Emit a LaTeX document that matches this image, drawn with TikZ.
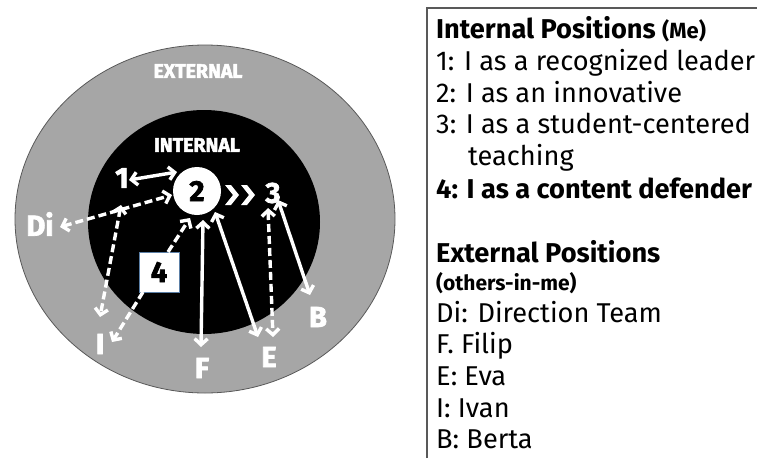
\documentclass[tikz,border=0pt]{standalone}
\usepackage{fontspec}
\setmainfont{Fira Sans}
\newfontfamily\lblfont[FakeBold=2.5]{Fira Sans}
\usetikzlibrary{arrows.meta}
\definecolor{ringgray}{HTML}{A6A6A6}
\definecolor{edgegray}{HTML}{595959}
\definecolor{boxblue}{HTML}{5B7FA6}
\definecolor{softwhite}{HTML}{FFFFFF}
\tikzset{
  solidarr/.style={draw=white, line width=3.4pt,
    {Straight Barb[length=6pt,width=13pt]}-{Straight Barb[length=6pt,width=13pt]}},
  dasharr/.style={solidarr, dash pattern=on 8pt off 4pt},
  dashone/.style={draw=white, line width=3.4pt, dash pattern=on 8pt off 4pt,
    -{Straight Barb[length=6pt,width=13pt]}},
  lbl/.style={text=softwhite, font=\fontsize{29}{32}\selectfont\lblfont\bfseries, inner sep=0pt},
  zone/.style={text=softwhite, font=\fontsize{19.5}{22}\selectfont\lblfont\bfseries, inner sep=0pt},
  legend/.style={anchor=base west, inner sep=0pt, font=\fontsize{27.2}{30}\selectfont},
  chev/.style={fill=white, draw=none},
}
\begin{document}
\begin{tikzpicture}[x=1pt,y=-1pt]
\useasboundingbox (0,0) rectangle (757,458);
% rings
\draw[fill=ringgray, draw=edgegray, line width=0.8pt] (205,219) ellipse [x radius=190, y radius=174];
\fill[black] (204,222) ellipse [x radius=116, y radius=112];
\node[zone] (ext) at (198,71) {EXTERNAL};
\node[zone] (int) at (197,145) {INTERNAL};
% internal positions
\node[lbl] (n1) at (122,178) {1};
\node[circle, fill=white, minimum size=48pt, inner sep=0pt,
      font=\fontsize{29}{32}\selectfont\lblfont\bfseries] (n2) at (197,191) {2};
\node[lbl] (n3) at (273,193) {3};
\node[draw=boxblue, line width=0.8pt, fill=white, minimum width=40pt, minimum height=40pt,
      inner sep=0pt, font=\fontsize{29}{32}\selectfont\lblfont\bfseries] (n4) at (159,272) {4};
% chevrons
\fill[chev] (225,185) -- (231,185) -- (239,195) -- (231,205) -- (225,205) -- (233,195) -- cycle;
\fill[chev] (241,185) -- (247,185) -- (255,195) -- (247,205) -- (241,205) -- (249,195) -- cycle;
% external positions
\node[lbl] (di) at (40,224) {Di};
\node[lbl] (ii) at (100,344) {I};
\node[lbl] (ff) at (202,368) {F};
\node[lbl] (ee) at (269,357) {E};
\node[lbl] (bb) at (318,317) {B};
% arrow ends
\coordinate (a1s) at (129,180);
\coordinate (a1e) at (177,172);
\coordinate (dis) at (60,227);
\coordinate (die) at (172,195);
\coordinate (ias) at (121,205);
\coordinate (iae) at (100,317);
\coordinate (b4t) at (168,252);
\coordinate (b4te) at (190,218);
\coordinate (b4b) at (143,292);
\coordinate (b4be) at (112,342);
\coordinate (fs) at (203,220);
\coordinate (fe) at (201,347);
\coordinate (es) at (215,212);
\coordinate (ee2) at (258,337);
\coordinate (e3s) at (268,208);
\coordinate (e3e) at (273,337);
\coordinate (bs) at (278,200);
\coordinate (be) at (310,295);
% arrows
\draw[solidarr] (a1s) -- (a1e);
\draw[dasharr] (dis) -- (die);
\draw[dasharr] (ias) -- (iae);
\draw[dashone] (b4t) -- (b4te);
\draw[dashone] (b4b) -- (b4be);
\draw[solidarr] (fs) -- (fe);
\draw[solidarr] (es) -- (ee2);
\draw[dasharr] (e3s) -- (e3e);
\draw[solidarr] (bs) -- (be);
% legend box
\coordinate (bxtl) at (427,8);
\coordinate (bxtr) at (757,8);
\coordinate (bxbl) at (427,458);
\draw[edgegray, line width=1.2pt] (bxbl) -- (bxtl) -- (bxtr);
\node[legend] (l0) at (436,38) {\bfseries Internal Positions {\fontsize{22}{24}\selectfont(Me)}};
\node[legend] (l1) at (436,70) {1: I as a recognized leader};
\node[legend] (l2) at (436,102) {2: I as an innovative};
\node[legend] (l3) at (436,133) {3: I as a student-centered};
\node[legend] (l3b) at (468,165) {teaching};
\node[legend] (l4) at (436,198) {\bfseries 4: I as a content defender};
\node[legend] (l5) at (436,262) {\bfseries External Positions};
\node[legend, font=\fontsize{21}{24}\selectfont\bfseries] (l6) at (436,290) {(others-in-me)};
\node[legend] (l7) at (436,322) {Di: Direction Team};
\node[legend] (l8) at (436,353) {F. Filip};
\node[legend] (l9) at (436,385) {E: Eva};
\node[legend] (l10) at (436,417) {I: Ivan};
\node[legend] (l11) at (436,448) {B: Berta};
\end{tikzpicture}
\end{document}
